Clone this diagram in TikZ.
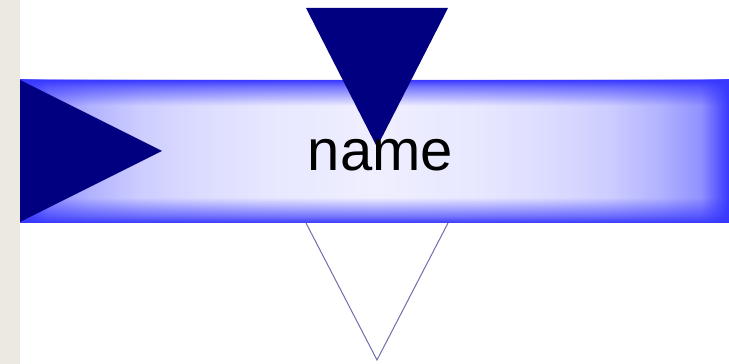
\documentclass[tikz,border=0pt]{standalone}
\usepackage{fontspec}
\setmainfont{Liberation Sans}
\usetikzlibrary{fadings}
\definecolor{pipeblue}{RGB}{55,55,255}
\definecolor{navyfill}{RGB}{0,0,128}
\definecolor{sidebar}{RGB}{236,233,224}
\definecolor{outl}{RGB}{110,110,175}
\pgfdeclarehorizontalshading{pipeh}{100bp}{color(0bp)=(pipeblue); color(25bp)=(pipeblue); color(27bp)=(pipeblue!55!white); color(30bp)=(pipeblue!38!white); color(33.5bp)=(pipeblue!25!white); color(37.5bp)=(pipeblue!18!white); color(42.5bp)=(pipeblue!12!white); color(50bp)=(pipeblue!8!white); color(57.5bp)=(pipeblue!12!white); color(62.5bp)=(pipeblue!18!white); color(66.5bp)=(pipeblue!25!white); color(70bp)=(pipeblue!38!white); color(73bp)=(pipeblue!55!white); color(75bp)=(pipeblue); color(100bp)=(pipeblue)}
\pgfdeclareverticalshading{pipevshade}{100bp}{color(0bp)=(white); color(25bp)=(white); color(27.5bp)=(white!65!black); color(34bp)=(black); color(66bp)=(black); color(72.5bp)=(white!65!black); color(75bp)=(white); color(100bp)=(white)}
\pgfdeclarefading{pipev}{\pgfuseshading{pipevshade}}
\tikzset{
  navytri/.style={fill=navyfill},
  outltri/.style={draw=outl, line width=1pt, line join=miter},
  label text/.style={font=\fontsize{58}{60}\selectfont, anchor=base, inner sep=0pt}
}
\begin{document}
\begin{tikzpicture}[x=1pt,y=1pt]
\useasboundingbox (0,0) rectangle (729,364);
\fill[white] (0,0) rectangle (729,364);
\fill[sidebar] (0,0) rectangle (20,364);
% bottom outlined triangle
\coordinate (bl) at (306,141);
\coordinate (br) at (448,141);
\coordinate (bt) at (377,4);
\draw[outltri] (bl) -- (bt) -- (br);
% bar
\shade[shading=pipeh] (20,141) rectangle (729,284);
\fill[pipeblue, path fading=pipev, fit fading=true] (20,141) rectangle (729,284);
% left triangle
\coordinate (lt) at (20,284);
\coordinate (lb) at (20,142);
\coordinate (lp) at (162,213);
\path[navytri] (lt) -- (lp) -- (lb) -- cycle;
% top triangle
\coordinate (tl) at (306,356);
\coordinate (tr) at (448,356);
\coordinate (tp) at (377,217);
\path[navytri] (tl) -- (tr) -- (tp) -- cycle;
\node[label text] (name) at (380.5,193.3) {name};
\end{tikzpicture}
\end{document}
